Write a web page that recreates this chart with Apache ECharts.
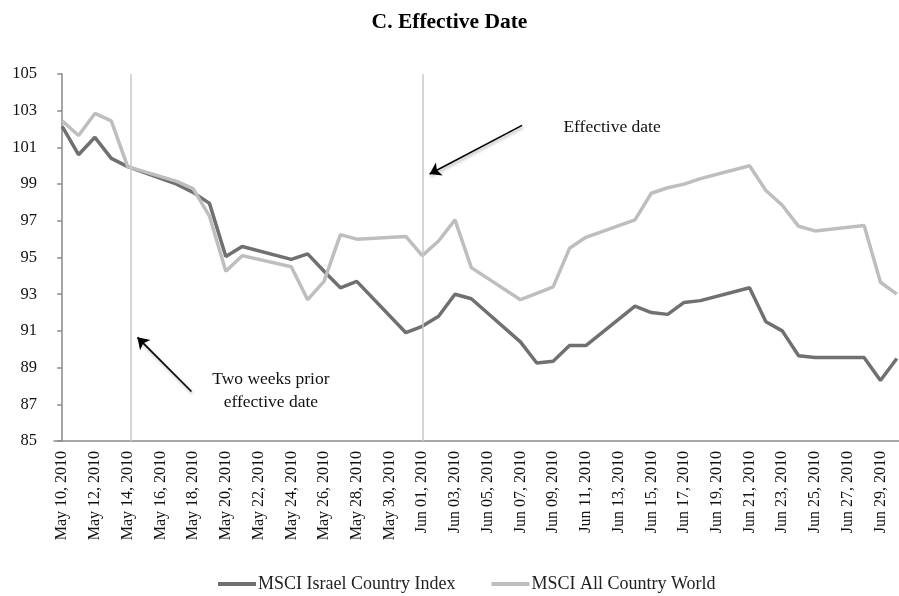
<!DOCTYPE html>
<html>
<head>
<meta charset="utf-8">
<script src="https://cdn.jsdelivr.net/npm/echarts@6/dist/echarts.min.js"></script>
<style>
  html, body { margin: 0; padding: 0; background: #fff; }
  #chart { width: 899px; height: 596px; }
</style>
</head>
<body>
<div id="chart"></div>
<script>
// every calendar day on the axis, trading days carry a value, weekends are null
var days = [
  'May 10, 2010','May 11, 2010','May 12, 2010','May 13, 2010','May 14, 2010','May 15, 2010','May 16, 2010',
  'May 17, 2010','May 18, 2010','May 19, 2010','May 20, 2010','May 21, 2010','May 22, 2010','May 23, 2010',
  'May 24, 2010','May 25, 2010','May 26, 2010','May 27, 2010','May 28, 2010','May 29, 2010','May 30, 2010',
  'May 31, 2010','Jun 01, 2010','Jun 02, 2010','Jun 03, 2010','Jun 04, 2010','Jun 05, 2010','Jun 06, 2010',
  'Jun 07, 2010','Jun 08, 2010','Jun 09, 2010','Jun 10, 2010','Jun 11, 2010','Jun 12, 2010','Jun 13, 2010',
  'Jun 14, 2010','Jun 15, 2010','Jun 16, 2010','Jun 17, 2010','Jun 18, 2010','Jun 19, 2010','Jun 20, 2010',
  'Jun 21, 2010','Jun 22, 2010','Jun 23, 2010','Jun 24, 2010','Jun 25, 2010','Jun 26, 2010','Jun 27, 2010',
  'Jun 28, 2010','Jun 29, 2010','Jun 30, 2010'
];

var israel = [
  102.15, 100.6, 101.55, 100.4, 99.95, null, null,
  99.0, 98.55, 97.95, 95.05, 95.6, null, null,
  94.9, 95.2, 94.25, 93.35, 93.7, null, null,
  90.9, 91.25, 91.8, 93.0, 92.75, null, null,
  90.4, 89.25, 89.35, 90.2, 90.2, null, null,
  92.35, 92.0, 91.9, 92.55, 92.65, null, null,
  93.35, 91.5, 91.0, 89.65, 89.55, null, null,
  89.55, 88.3, 89.5
];

var world = [
  102.45, 101.65, 102.85, 102.45, 99.95, null, null,
  99.15, 98.75, 97.25, 94.25, 95.1, null, null,
  94.5, 92.7, 93.7, 96.25, 96.0, null, null,
  96.15, 95.1, 95.9, 97.05, 94.45, null, null,
  92.7, 93.05, 93.4, 95.5, 96.1, null, null,
  97.05, 98.5, 98.8, 99.0, 99.3, null, null,
  100.0, 98.65, 97.85, 96.7, 96.45, null, null,
  96.75, 93.65, 93.0
];

var seriesNames = ['MSCI Israel Country Index', 'MSCI All Country World'];

// annotation positions in day-index / index-value space
var markerDays = [4.22, 22.03];
var effArrow = [[28.1, 102.2], [22.45, 99.55]];
var priorArrow = [[7.9, 87.7], [4.6, 90.65]];
var effLabel = [33.6, 102.1];
var priorLabel = [12.75, 87.72];

var serif = '"Liberation Serif", "DejaVu Serif", serif';

var chart = echarts.init(document.getElementById('chart'));

var arrowStyle = {
  color: '#000',
  width: 1.6,
  type: 'solid',
  shadowColor: 'rgba(0,0,0,0.35)',
  shadowBlur: 3,
  shadowOffsetX: 1,
  shadowOffsetY: 2
};

chart.setOption({
  animation: false,
  backgroundColor: '#fff',
  title: {
    text: 'C. Effective Date',
    left: 'center',
    top: 6,
    textStyle: { fontFamily: serif, fontSize: 21.5, fontWeight: 'bold', color: '#000' }
  },
  legend: {
    top: 570,
    left: 213,
    icon: 'rect',
    itemWidth: 38,
    itemHeight: 4,
    itemGap: 36,
    textStyle: { fontFamily: serif, fontSize: 18, color: '#222', padding: [3, 0, 0, -3] },
    data: seriesNames
  },
  grid: { left: 54, right: -6, top: 74, bottom: 155, outerBoundsMode: 'none', containLabel: false },
  xAxis: [{
    type: 'category',
    data: days,
    boundaryGap: true,
    axisLine: { lineStyle: { color: '#8a8a8a', width: 1.5 } },
    axisTick: { interval: 1, length: 5, lineStyle: { color: '#8a8a8a', width: 1.5 } },
    axisLabel: {
      interval: 1,
      rotate: 90,
      margin: 10,
      fontFamily: serif,
      fontSize: 16,
      color: '#111'
    },
    splitLine: { show: false }
  }, {
    type: 'value',
    min: -0.5,
    max: 51.5,
    show: false
  }],
  yAxis: {
    type: 'value',
    min: 85,
    max: 105,
    interval: 2,
    axisLine: { show: true, lineStyle: { color: '#8a8a8a', width: 1.5 } },
    axisTick: { show: true, length: 5, lineStyle: { color: '#8a8a8a', width: 1.5 } },
    axisLabel: { margin: 17, fontFamily: serif, fontSize: 16.5, color: '#111' },
    splitLine: { show: false }
  },
  series: [{
    name: seriesNames[0],
    type: 'line',
    data: israel,
    connectNulls: true,
    symbol: 'none',
    lineStyle: { color: '#707070', width: 3.5 },
    itemStyle: { color: '#707070' }
  }, {
    name: seriesNames[1],
    type: 'line',
    data: world,
    connectNulls: true,
    symbol: 'none',
    lineStyle: { color: '#bebebe', width: 3.5 },
    itemStyle: { color: '#bebebe' }
  }, {
    name: 'notes',
    type: 'line',
    xAxisIndex: 1,
    data: [],
    silent: true,
    markLine: {
      silent: true,
      symbol: 'none',
      label: { show: false },
      lineStyle: { color: '#c8c8c8', width: 1.5, type: 'solid' },
      data: markerDays.map(function (d) { return { xAxis: d }; })
    }
  }, {
    name: 'arrows',
    type: 'line',
    xAxisIndex: 1,
    data: [],
    silent: true,
    markLine: {
      silent: true,
      symbol: ['none', 'arrow'],
      symbolSize: 11,
      label: { show: false },
      lineStyle: arrowStyle,
      data: [
        [{ coord: effArrow[0] }, { coord: effArrow[1] }],
        [{ coord: priorArrow[0] }, { coord: priorArrow[1] }]
      ]
    },
    markPoint: {
      silent: true,
      symbol: 'circle',
      symbolSize: 0,
      label: {
        show: true,
        position: 'inside',
        fontFamily: serif,
        fontSize: 17.5,
        lineHeight: 23,
        color: '#111',
        align: 'center'
      },
      data: [
        { coord: effLabel, label: { formatter: 'Effective date' } },
        { coord: priorLabel, label: { formatter: 'Two weeks prior\neffective date' } }
      ]
    }
  }]
});
</script>
</body>
</html>
